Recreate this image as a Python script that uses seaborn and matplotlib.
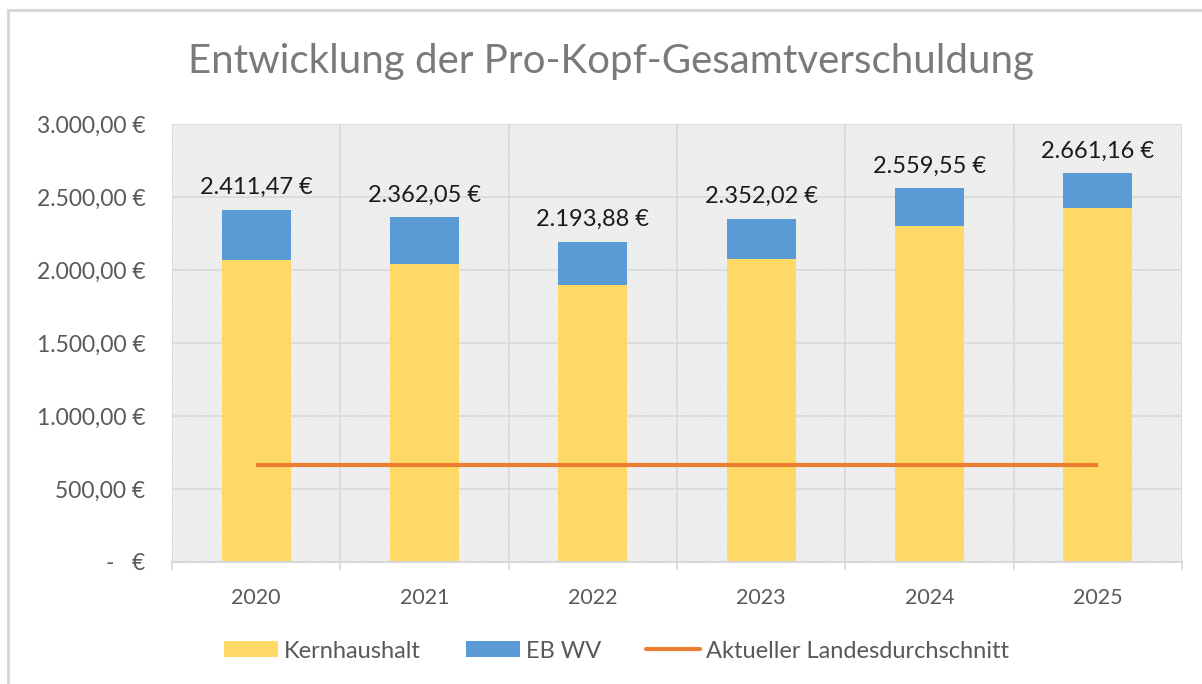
import numpy as np
import pandas as pd
import matplotlib
matplotlib.use("Agg")
import matplotlib.pyplot as plt
from matplotlib.patches import Rectangle, Patch
from matplotlib.lines import Line2D
import seaborn as sns

# Daten
jahre = ["2020", "2021", "2022", "2023", "2024", "2025"]
gesamt = [2411.47, 2362.05, 2193.88, 2352.02, 2559.55, 2661.16]
kernhaushalt = [2068, 2041, 1897, 2075, 2301, 2425]
landesdurchschnitt = [662, 662, 662, 662, 662, 662]
ytick_werte = [0, 500, 1000, 1500, 2000, 2500, 3000]
ytick_texte = ["-   €", "500,00 €", "1.000,00 €", "1.500,00 €",
               "2.000,00 €", "2.500,00 €", "3.000,00 €"]

sns.set_theme(style="white")
plt.rcParams['font.family'] = ['Lato', 'DejaVu Sans']
plt.rcParams['hatch.linewidth'] = 0.55

GELB = "#ffd966"
BLAU = "#5b9bd5"
ORANGE = "#ed7d31"
GRAU = "#595959"
LINIE = "#d9d9d9"

df = pd.DataFrame({"Jahr": jahre, "Gesamt": gesamt, "Kern": kernhaushalt})

fig = plt.figure(figsize=(12.02, 6.84), dpi=100)
fig.patch.set_facecolor("white")
# Rahmen
fig.patches.append(Rectangle((8 / 1202, -0.1), 1.2, 1 - 10 / 684 + 0.1,
                             transform=fig.transFigure, fill=False,
                             edgecolor=LINIE, linewidth=2.2, zorder=0))

ax = fig.add_axes([172 / 1202, 1 - 562 / 684, (1182 - 172) / 1202,
                   (562 - 124) / 684])

# schraffierter Hintergrund
ax.add_patch(Rectangle((0, 0), 1, 1, transform=ax.transAxes,
                       facecolor="white", edgecolor="#dcdcdc",
                       hatch="\\" * 15, linewidth=0, zorder=0))

sns.barplot(data=df, x="Jahr", y="Gesamt", color=BLAU, saturation=1,
            width=0.41, linewidth=0, ax=ax, zorder=3)
sns.barplot(data=df, x="Jahr", y="Kern", color=GELB, saturation=1,
            width=0.41, linewidth=0, ax=ax, zorder=4)

pos = np.arange(len(jahre))
ax.plot(pos, landesdurchschnitt, color=ORANGE, linewidth=3,
        solid_capstyle="butt", zorder=5)

for x, v in zip(pos, gesamt):
    txt = f"{v:,.2f}".replace(",", "X").replace(".", ",").replace("X", ".")
    ax.text(x, v + 80, txt + " €", ha="center", va="bottom",
            fontsize=17, color="#1a1a1a", zorder=6)

ax.set_xlim(-0.5, len(jahre) - 0.5)
ax.set_ylim(0, 3000)
ax.set_yticks(ytick_werte)
ax.set_yticklabels(ytick_texte)
ax.set_xlabel("")
ax.set_ylabel("")

# Gitter
for y in ytick_werte[1:]:
    ax.axhline(y, color=LINIE, linewidth=1.2, zorder=1)
grenzen = np.arange(-0.5, len(jahre), 1.0)
for g in grenzen:
    ax.axvline(g, color=LINIE, linewidth=1.2, zorder=1)
ax.set_xticks(grenzen, minor=True)
ax.tick_params(axis="x", which="minor", length=6, width=1.2,
               color=LINIE, direction="out", bottom=True)
ax.tick_params(axis="x", which="major", length=0, pad=19,
               labelsize=15.5, labelcolor=GRAU)
ax.tick_params(axis="y", length=0, pad=19, labelsize=16.5, labelcolor=GRAU)

for s in ["top", "right", "left"]:
    ax.spines[s].set_visible(False)
ax.spines["bottom"].set_color(LINIE)
ax.spines["bottom"].set_linewidth(1.5)
ax.spines["bottom"].set_zorder(7)

fig.text(0.508, 1 - 62 / 684, "Entwicklung der Pro-Kopf-Gesamtverschuldung",
         ha="center", va="center", fontsize=29, color="#7a7a7a")

handles = [Patch(facecolor=GELB, edgecolor="none"),
           Patch(facecolor=BLAU, edgecolor="none"),
           Line2D([0], [0], color=ORANGE, linewidth=3)]
labels = ["Kernhaushalt", "EB WV", "Aktueller Landesdurchschnitt"]
leg = fig.legend(handles, labels, loc="center", ncol=3,
                 bbox_to_anchor=(0.513, 1 - 651 / 684), frameon=False,
                 fontsize=17, handlelength=2.3, handleheight=0.65,
                 columnspacing=1.9, handletextpad=0.25)
for t in leg.get_texts():
    t.set_color(GRAU)

fig.savefig("out.png", dpi=100, facecolor="white")
